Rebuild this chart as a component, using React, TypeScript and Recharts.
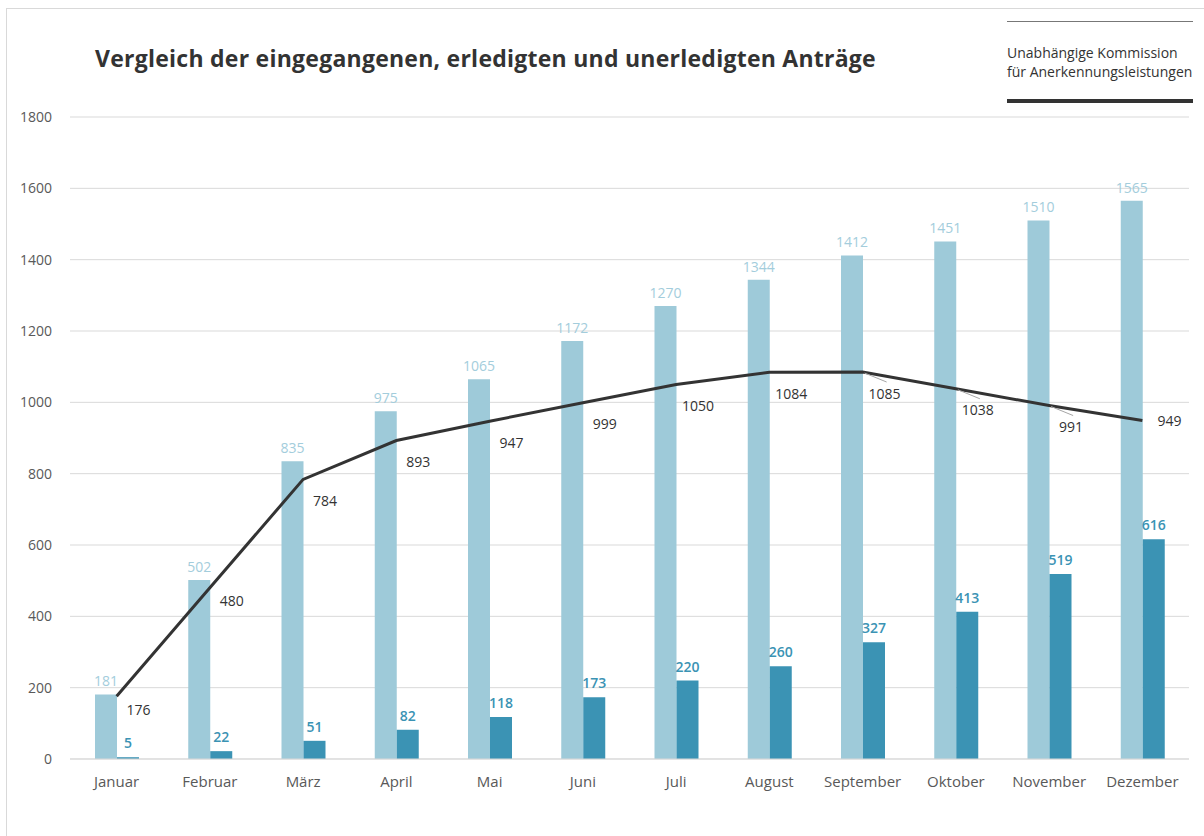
import React from 'react';
import { ComposedChart, Bar, Line, XAxis, YAxis, CartesianGrid, LabelList } from 'recharts';

const months = ['Januar', 'Februar', 'März', 'April', 'Mai', 'Juni', 'Juli', 'August', 'September', 'Oktober', 'November', 'Dezember'];
const eingegangen = [181, 502, 835, 975, 1065, 1172, 1270, 1344, 1412, 1451, 1510, 1565];
const erledigt = [5, 22, 51, 82, 118, 173, 220, 260, 327, 413, 519, 616];
const unerledigt = [176, 480, 784, 893, 947, 999, 1050, 1084, 1085, 1038, 991, 949];
const yTicks = [0, 200, 400, 600, 800, 1000, 1200, 1400, 1600, 1800];

const data = months.map((m, i) => ({
  month: m,
  eingegangen: eingegangen[i],
  erledigt: erledigt[i],
  unerledigt: unerledigt[i],
}));

const FONT = '"Open Sans", "Noto Sans", sans-serif';
const LIGHT = '#9ecad9';
const DARK = '#3b93b4';

// label for the line: right-below the point, last one straight right
const LineLabel = (props: any) => {
  const { x, y, value, index } = props;
  const last = index === months.length - 1;
  const dx = last ? 15 : 22;
  const dy = last ? 0 : index < 2 ? 13 : 21;
  const leader = index >= 8 && index <= 10;
  return (
    <g>
      {leader && (
        <line x1={x + 2} y1={y + 1} x2={x + 24} y2={y + 10} stroke="#a6a6a6" strokeWidth={1} />
      )}
      <text x={x + dx} y={y + dy} fill="#333" fontSize={14} fontFamily={FONT} textAnchor={last ? 'start' : 'middle'} dominantBaseline="central">
        {value}
      </text>
    </g>
  );
};

const App: React.FC = () => {
  return (
    <div style={{ position: 'absolute', left: 0, top: 0, width: 1204, height: 836, background: '#fff', fontFamily: FONT }}>
      <div style={{ position: 'absolute', left: 6, top: 8, right: 0, bottom: 0, borderLeft: '1px solid #d9d9d9', borderTop: '1px solid #d9d9d9' }} />
      <div style={{ position: 'absolute', left: 95, top: 42, fontSize: 23, letterSpacing: 0.25, fontWeight: 700, color: '#333', whiteSpace: 'nowrap' }}>
        Vergleich der eingegangenen, erledigten und unerledigten Anträge
      </div>
      <div style={{ position: 'absolute', left: 1007, top: 21, width: 186, borderTop: '1px solid #777' }} />
      <div style={{ position: 'absolute', left: 1007, top: 43, fontSize: 14, lineHeight: '19px', color: '#333', whiteSpace: 'nowrap' }}>
        Unabhängige Kommission
        <br />
        für Anerkennungsleistungen
      </div>
      <div style={{ position: 'absolute', left: 1007, top: 99, width: 186, borderTop: '4px solid #333' }} />
      <div style={{ position: 'absolute', left: 0, top: 0 }}>
        <ComposedChart width={1204} height={836} data={data} margin={{ top: 117, right: 15, bottom: 47, left: 10 }} barGap={0} barSize={22}>
          <CartesianGrid vertical={false} stroke="#d9d9d9" />
          <XAxis
            dataKey="month"
            tickLine={false}
            axisLine={{ stroke: '#d9d9d9' }}
            tickSize={0}
            tickMargin={17}
            height={30}
            tick={{ fill: '#595959', fontSize: 15, fontFamily: FONT }}
            interval={0}
          />
          <YAxis
            domain={[0, 1800]}
            ticks={yTicks}
            width={60}
            tickLine={false}
            axisLine={false}
            tickSize={0}
            tickMargin={18}
            tick={{ fill: '#595959', fontSize: 14, fontFamily: FONT }}
          />
          <Bar dataKey="eingegangen" fill={LIGHT} isAnimationActive={false}>
            <LabelList dataKey="eingegangen" position="top" offset={8} fill="#a3cddc" fontSize={14} fontFamily={FONT} />
          </Bar>
          <Bar dataKey="erledigt" fill={DARK} isAnimationActive={false}>
            <LabelList dataKey="erledigt" position="top" offset={9} fill={DARK} fontSize={14} fontWeight={600} fontFamily={FONT} />
          </Bar>
          <Line dataKey="unerledigt" stroke="#333" strokeWidth={3} dot={false} isAnimationActive={false} type="linear">
            <LabelList dataKey="unerledigt" content={<LineLabel />} />
          </Line>
        </ComposedChart>
      </div>
    </div>
  );
};

export default App;
